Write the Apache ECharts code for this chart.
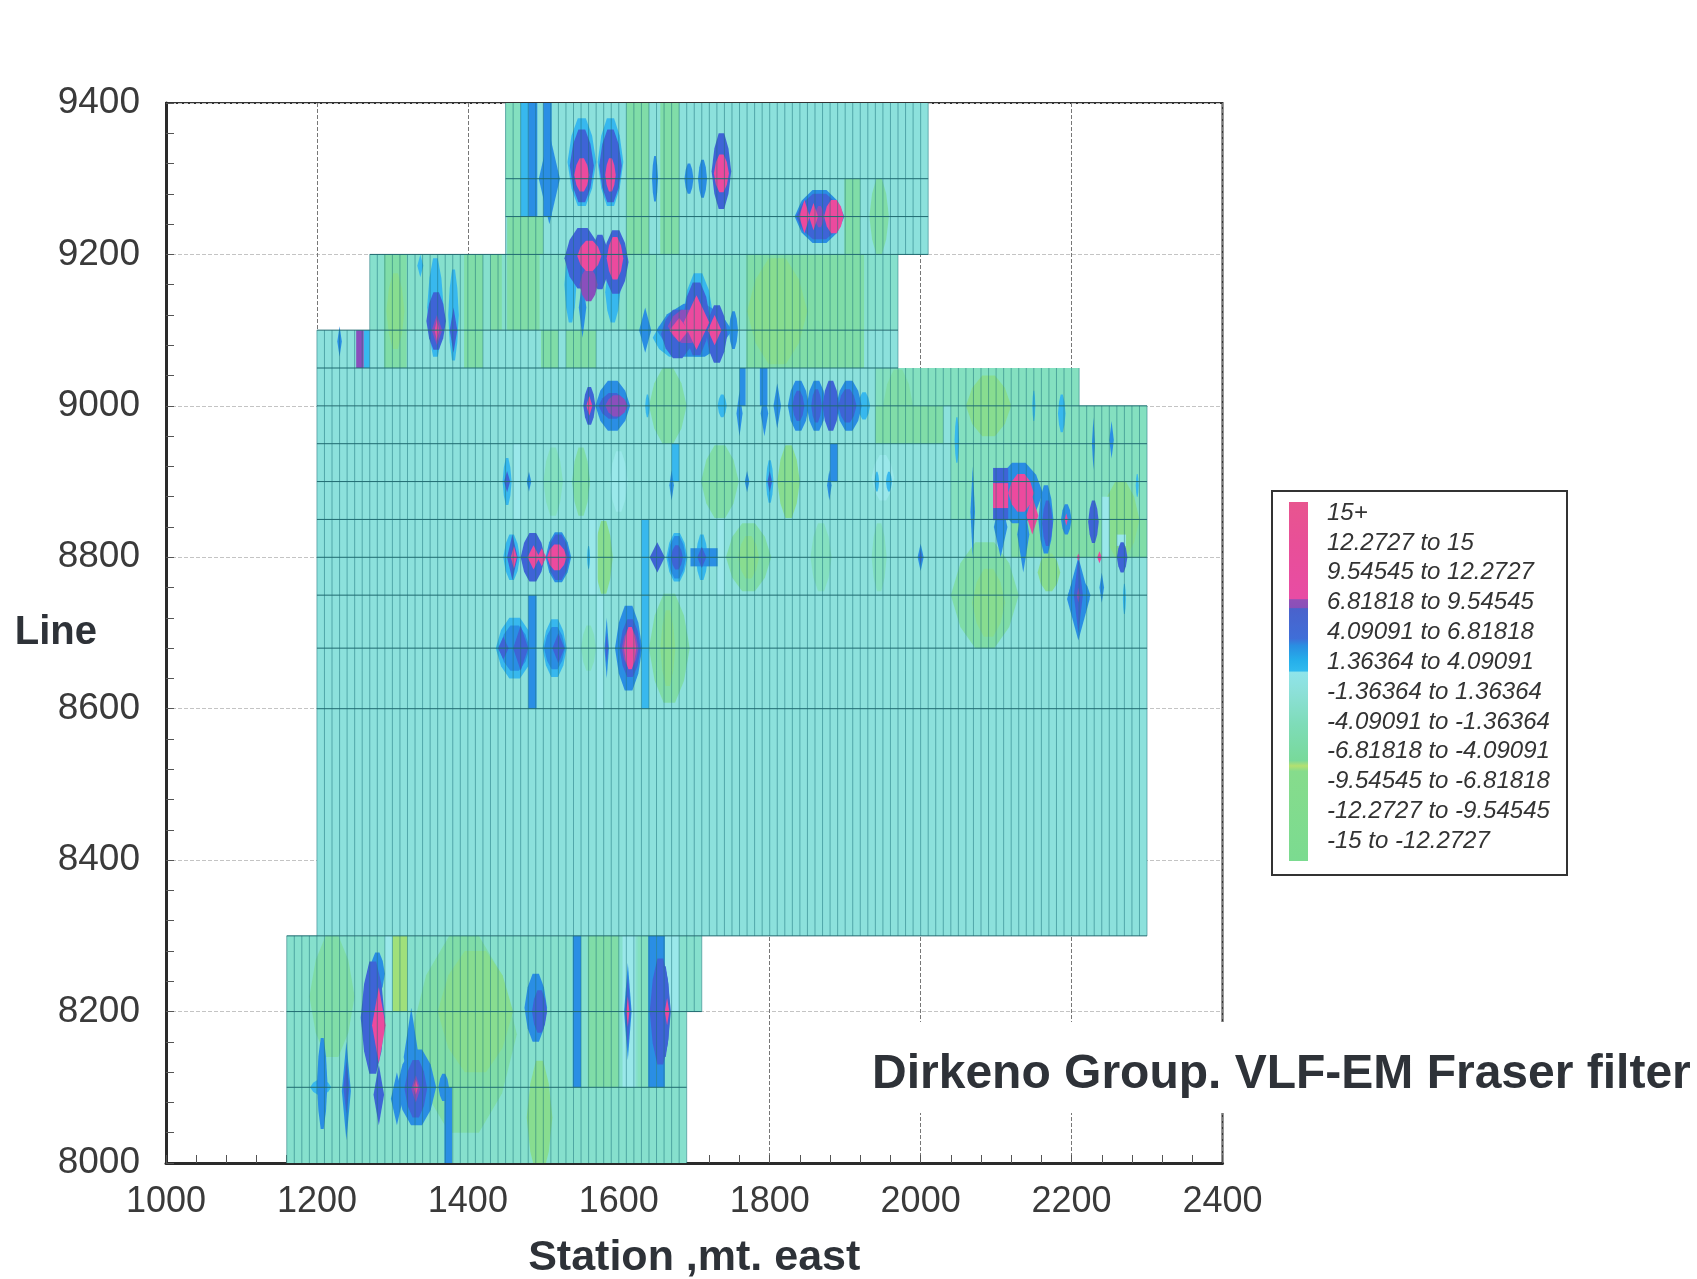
<!DOCTYPE html>
<html>
<head>
<meta charset="utf-8">
<style>html,body{margin:0;padding:0;background:#fff}#c{width:1697px;height:1279px}</style>
<script src="https://cdn.jsdelivr.net/npm/echarts@6/dist/echarts.min.js"></script>
</head>
<body>
<div id="c"></div>
<script>
// Surveyed blocks: [stationFrom, stationTo, lineFrom, lineTo, value]
const coverage = [
  [1450,2010,9200,9400,-0.8],[1270,1970,9100,9200,-1.2],[1200,1970,9050,9100,-1.0],
  [1200,2210,9000,9050,-0.8],[1200,2300,8300,9000,-0.4],[1160,1710,8200,8300,-1.4],[1160,1690,8000,8200,-1.4]
];
// Survey lines drawn across the blocks: [line, stationFrom, stationTo]
const surveyLines = [
  [9300,1450,2010],[9250,1450,2010],[9200,1270,2010],[9100,1200,1970],[9050,1200,1970],[9000,1200,2300],
  [8950,1200,2300],[8900,1200,2300],[8850,1200,2300],[8800,1200,2300],[8750,1200,2300],[8680,1200,2300],
  [8600,1200,2300],[8300,1160,2300],[8200,1160,1710],[8100,1160,1690]
];
// Straight-sided bands: [stationFrom, stationTo, lineFrom, lineTo, value]
const stripes = [
  [1450,1470,9250,9400,-3],[1610,1640,9200,9400,-4],[1655,1680,9200,9400,-4],[1899,1920,9200,9300,-4],[1452,1500,9200,9250,-4],
  [1470,1480,9250,9400,2],[1480,1492,9250,9400,4],[1500,1511,9250,9400,4],
  [1289,1319,9050,9200,-4],[1395,1420,9050,9200,-4],[1430,1445,9100,9200,-3.5],[1452,1495,9100,9200,-4],[1497,1520,9050,9100,-4],
  [1530,1570,9050,9100,-4],[1610,1650,9100,9200,-3],[1769,1925,9050,9200,-4],
  [1252,1262,9050,9100,8],[1262,1270,9050,9100,2],
  [1940,2210,9000,9050,-3],[1940,2030,8950,9000,-4],[2040,2300,8850,9000,-3],[2120,2300,8800,8850,-3.5],
  [1760,1768,9000,9050,4],[1787,1797,9000,9050,4],[1880,1890,8900,8950,4],
  [1460,1470,8850,8950,1],[1670,1680,8900,8950,2],[1560,1572,8750,8850,1],[1630,1640,8750,8850,2],[1730,1740,8750,8850,1],
  [1480,1491,8600,8750,4],[1571,1580,8600,8750,1],[1630,1640,8600,8750,2],[2240,2250,8800,8880,1],[2260,2272,8815,8830,1],
  [1290,1300,8200,8300,1],[1300,1320,8200,8300,-7],[1539,1550,8100,8300,4],[1559,1600,8100,8300,-4],[1625,1640,8100,8300,-3],
  [1639,1650,8100,8300,3],[1650,1661,8100,8300,4],[1661,1680,8200,8300,1],[1605,1622,8100,8300,1],[1369,1379,8000,8100,3],
  [1695,1731,8788,8812,4],[2096,2116,8849,8918,6],[2096,2116,8865,8898,10]
];
// Rounded lobes: [station, line, halfWidth, halfHeight, value]
const lobes = [
  // green lows
  [1304,9125,12,50,-6],[1810,9125,40,70,-5.5],[1945,9250,13,50,-4],[1665,9000,25,50,-4],[1970,9000,20,48,-4.5],[2090,9000,30,40,-5],
  [1513,8900,13,45,-3],[1550,8900,12,45,-4],[1734,8900,25,48,-4],[1825,8900,15,48,-5],[1580,8800,12,48,-5],[1772,8800,30,45,-4],
  [1772,8800,14,28,-6],[1868,8800,14,45,-3],[1945,8800,10,45,-3],[2085,8750,45,70,-4],[2090,8740,22,45,-5.5],[1560,8680,10,30,-3],
  [1667,8680,27,72,-4],[1665,8680,10,50,-6],[1220,8220,30,80,-4],[1395,8170,70,130,-4],[1410,8200,50,80,-5],[1495,8060,17,75,-5],
  [2170,8780,15,25,-5],[2265,8850,25,50,-5],
  // pale and blue highs, shoulders
  [1600,8900,12,40,1],[1950,8905,15,30,1],[1551,9322,19,58,2],[1589,9322,17,58,2],[1536,9160,8,50,2],[1592,9150,10,40,2],
  [1675,9090,30,25,2],[1705,9120,20,55,2],[1357,9130,11,65,2],[1381,9120,7,60,2],[1638,9000,3,15,2],[1737,9000,6,15,2],
  [1925,9000,8,18,2],[2187,8990,5,25,2],[2048,8955,3,30,2],[2150,9000,2,20,2],[2287,8895,2,15,2],[1452,8900,6,31,2],[1800,8900,5,28,2],
  [1942,8900,3,13,2],[1958,8900,4,13,2],[1560,8800,2,15,2],[1458,8800,11,30,2],[1677,8800,14,32,2],[1710,8800,8,30,2],
  [1462,8680,25,40,2],[1515,8680,16,38,2],[2270,8745,2,20,2],[1205,8100,14,10,2],[1280,8250,10,28,3],[1368,8100,7,18,3],[1207,8105,7,60,3],
  // bright-blue bodies
  [1648,9300,4,30,3],[1693,9300,6,20,3],[1711,9300,6,25,4],[1866,9250,33,35,4],
  [1700,9100,50,35,4],[1752,9100,6,25,4],[1592,9000,23,33,4],[1838,9000,14,33,4],[1862,9000,13,33,4],[1905,9000,17,33,4],
  [1520,8800,17,33,4],[1677,8800,12,28,4],[1462,8680,20,30,4],[1515,8680,14,28,4],[1613,8680,18,56,4],
  [2130,8885,32,40,4],[2166,8850,10,45,4],[2193,8850,7,20,4],[2210,8750,15,20,4],[1332,8100,26,50,4],[1490,8205,15,45,4],[1655,8200,14,70,5],
  // indigo cores
  [1551,9317,16,48,6],[1589,9317,15,48,6],[1736,9310,13,50,6],[1866,9250,31,30,6],[1552,9195,24,40,6],[1596,9190,17,42,6],[1575,9190,12,36,6],
  [1678,9095,22,32,6],[1703,9115,18,48,6],[1730,9095,14,38,6],[1358,9112,13,38,6],
  [1561,9000,8,25,6],[1592,9000,19,17,6],[1838,9000,8,20,6],[1862,9000,7,22,6],[1881,9000,11,33,6],[1903,9000,12,22,6],
  [1486,8800,16,32,6],[1520,8800,15,30,6],[1677,8800,8,16,6],[2168,8845,7,30,6],[2229,8847,7,28,6],[2267,8800,7,20,6],
  [1615,8680,14,38,6],[1274,8192,16,74,6],[1331,8098,15,38,6],[1495,8200,10,28,6],[1660,8200,8,60,6],
  // purple
  [1866,9250,6,14,8],[1560,9160,12,22,8],[1690,9105,25,22,8],[1597,9000,15,14,8],[1615,8680,11,25,8],
  // pink peak bodies
  [1551,9305,10,22,10],[1589,9305,7,22,10],[1736,9307,10,25,10],[1885,9250,13,22,10],[1561,9198,16,20,10],[1595,9195,11,28,10],
  [1518,8800,13,17,10],[1615,8680,8,28,10],[2133,8885,17,25,10]
];
// Sharp diamonds: [station, line, halfWidth, halfHeight, value]
const spikes = [
  [1508,9300,14,60,4],[1635,9100,8,30,4],[1230,9085,3,20,4],[1337,9185,4,15,2],[1552,9130,5,40,4],[1760,8990,4,30,4],[1793,8990,5,30,4],[1810,9000,5,30,4],
  [2229,8950,2,35,4],[2253,8955,3,25,4],[1670,8895,3,20,4],[1481,8900,3,13,4],[1770,8900,3,14,4],[1879,8895,3,20,4],[2069,8860,3,60,4],
  [2106,8840,9,40,4],[2136,8830,8,50,4],[2000,8800,4,18,4],[1584,8680,3,40,4],[2240,8760,3,20,4],[2209,8745,15,55,4],
  [1325,8140,10,65,4],[1306,8085,8,35,4],[1239,8095,6,65,4],[1282,8090,7,40,5],[1612,8200,5,64,4],[1447,8680,7,15,5],
  [1452,8900,4,14,5],[1800,8900,3,14,5],[1520,8680,8,20,5],[1359,9100,7,20,8],[1381,9100,5,30,6],[1459,8800,7,30,6],[1651,8800,10,20,6],
  [1710,8800,6,14,6],[2000,8800,2,10,6],[2209,8750,6,50,6],[1470,8680,10,30,6],[1584,8680,2,20,6],[1239,8100,4,35,6],[1612,8200,4,48,6],
  [2209,8750,2,10,8],[1331,8098,6,18,8],
  // pink peaks
  [1846,9250,7,22,10],[1858,9250,6,18,10],
  [1680,9100,13,16,10],[1703,9110,17,36,10],[1727,9100,9,20,10],[1359,9100,3,14,10],
  [1561,9000,4,13,10],[1461,8800,4,15,10],[1487,8800,8,16,10],[1498,8800,6,12,10],
  [2148,8855,8,25,10],[2193,8850,2,8,10],[2237,8800,3,8,10],[2209,8800,2,5,10],
  [1282,8182,9,50,10],[1331,8100,3,10,10],[1612,8200,2,20,10],[1664,8200,3,18,10]
];
const legendLabels = ['15+','12.2727 to 15','9.54545 to 12.2727','6.81818 to 9.54545','4.09091 to 6.81818','1.36364 to 4.09091',
  '-1.36364 to 1.36364','-4.09091 to -1.36364','-6.81818 to -4.09091','-9.54545 to -6.81818','-12.2727 to -9.54545','-15 to -12.2727'];
const legendStops = [[0,'#e8558f'],[0.12,'#e84f98'],[0.27,'#e84ca4'],[0.272,'#9050b8'],[0.295,'#8a4fb8'],[0.297,'#4a62cc'],[0.38,'#3f6ed8'],
  [0.40,'#2a8ee2'],[0.44,'#25aeea'],[0.47,'#30baee'],[0.475,'#8fe4ea'],[0.53,'#8ce0d8'],[0.62,'#7edcb8'],[0.72,'#78d99a'],[0.735,'#b4e070'],
  [0.75,'#86dc8c'],[1,'#7bdb90']];
const xTicks = {min:1000,max:2400,interval:200};
const yTicks = {min:8000,max:9400,interval:200};
const titleText = 'Dirkeno Group. VLF-EM Fraser filter';

function bandColor(v){
  if(v>=9) return '#ec4a9e';
  if(v>=7) return '#8a4fbc';
  if(v>=5) return '#3e64d6';
  if(v>=3) return '#2a8ee4';
  if(v>=1.5) return '#38b8ee';
  if(v>=0.5) return '#9ae8ea';
  if(v>=-1) return '#8ce1dc';
  if(v>=-2) return '#86e0cd';
  if(v>=-3.2) return '#84e0c0';
  if(v>=-4.5) return '#80dda8';
  if(v>=-6.5) return '#88dd90';
  return '#a0e07a';
}
function toBox(r){ return [(r[0]+r[1])/2,(r[2]+r[3])/2,(r[1]-r[0])/2,(r[3]-r[2])/2,r[4],2]; }
const anomalies = []
  .concat(stripes.map(toBox))
  .concat(lobes.map(l=>l.concat(1)))
  .concat(spikes.map(s=>s.concat(0)));
anomalies.forEach((a,i)=>a.push(i));
anomalies.sort((a,b)=>{
  const ra=a[4]<0?-a[4]:100+a[4], rb=b[4]<0?-b[4]:100+b[4];
  return ra-rb || a[6]-b[6];
});

function renderCoverage(p,api){
  const a=api.coord([api.value(0),api.value(3)]), b=api.coord([api.value(1),api.value(2)]);
  return {type:'rect',shape:{x:a[0],y:a[1],width:b[0]-a[0],height:b[1]-a[1]},style:{fill:bandColor(api.value(4))}};
}
function renderAnomaly(p,api){
  const x=api.value(0),y=api.value(1),rx=api.value(2),ry=api.value(3),shape=api.value(5);
  let pts;
  if(shape===2) pts=[[x-rx,y-ry],[x+rx,y-ry],[x+rx,y+ry],[x-rx,y+ry]];
  else if(shape===1) pts=[[x-rx,y],[x-rx*0.72,y+ry*0.6],[x-rx*0.28,y+ry],[x+rx*0.28,y+ry],[x+rx*0.72,y+ry*0.6],[x+rx,y],
                          [x+rx*0.72,y-ry*0.6],[x+rx*0.28,y-ry],[x-rx*0.28,y-ry],[x-rx*0.72,y-ry*0.6]];
  else pts=[[x-rx,y],[x,y+ry],[x+rx,y],[x,y-ry]];
  return {type:'polygon',shape:{points:pts.map(q=>api.coord(q))},style:{fill:bandColor(api.value(4))}};
}
function renderStations(p,api){
  const x0=api.value(0),x1=api.value(1),y0=api.value(2),y1=api.value(3),kids=[];
  for(let s=Math.ceil(x0/10)*10;s<=x1;s+=10){
    const a=api.coord([s,y1]),b=api.coord([s,y0]);
    kids.push({type:'line',shape:{x1:a[0],y1:a[1],x2:b[0],y2:b[1]},style:{stroke:'rgba(24,110,120,0.5)',lineWidth:1}});
  }
  return {type:'group',children:kids};
}
function renderSurveyLine(p,api){
  const a=api.coord([api.value(1),api.value(0)]),b=api.coord([api.value(2),api.value(0)]);
  return {type:'line',shape:{x1:a[0],y1:a[1],x2:b[0],y2:b[1]},style:{stroke:'#1f6a70',lineWidth:1}};
}

const boxL=1271,boxT=490,boxW=295,boxH=384,barX=1289,barT=502,barW=19,barH=359,rowStep=29.85,firstText=512;
const legendGraphics=[
  {type:'rect',left:boxL,top:boxT,shape:{width:boxW,height:boxH},style:{fill:'#fff',stroke:'#333',lineWidth:2},z:50},
  {type:'rect',left:barX,top:barT,shape:{width:barW,height:barH},
   style:{fill:new echarts.graphic.LinearGradient(0,0,0,1,legendStops.map(s=>({offset:s[0],color:s[1]})))},z:51}
].concat(legendLabels.map((t,i)=>({type:'text',left:1327,top:firstText+i*rowStep-11,z:52,
  style:{text:t,fill:'#333',font:'italic 24px "Liberation Sans", Arial, sans-serif'}})));

const fontName='"Liberation Sans", Arial, sans-serif';
function axis(t,name,gap,grid,labelSize,margin,nameSize,namePad){
  return {type:'value',min:t.min,max:t.max,interval:t.interval,name:name,nameLocation:'middle',nameGap:gap,nameRotate:0,nameMoveOverlap:false,
    nameTextStyle:{fontFamily:fontName,color:'#2e3238',fontSize:nameSize,fontWeight:'bold',padding:namePad},
    axisLabel:{margin:margin,showMinLabel:true,showMaxLabel:true,formatter:v=>String(v),fontFamily:fontName,color:'#3a3a3a',fontSize:labelSize},
    axisLine:{show:true,lineStyle:{color:'#2a2a2a',width:3}},
    axisTick:{show:true,inside:true,length:8,lineStyle:{color:'#555',width:1}},
    minorTick:{show:true,splitNumber:5,length:8,lineStyle:{color:'#555',width:1}},
    splitLine:{show:true,lineStyle:grid},minorSplitLine:{show:false}};
}
const chart=echarts.init(document.getElementById('c'),null,{renderer:'canvas'});
chart.setOption({
  animation:false,
  backgroundColor:'#fff',
  title:{text:titleText,left:858,top:1022,padding:[29,14,14,14],backgroundColor:'#fff',z:20,
    textStyle:{fontFamily:fontName,fontSize:48,fontWeight:'bold',color:'#2e3238'}},
  grid:{left:166,right:474.5,top:103,bottom:116,show:true,borderColor:'#333',borderWidth:2,backgroundColor:'#fff',containLabel:false,outerBoundsMode:'none'},
  xAxis:axis(xTicks,'Station ,mt. east',74,{color:'#777',width:1,type:'dashed'},36,21,43,0),
  yAxis:axis(yTicks,'Line',69,{color:'#c4c4c4',width:1,type:'dashed'},37,26,40,[11,0,0,0]),
  graphic:legendGraphics,
  series:[
    {type:'custom',name:'coverage',silent:true,clip:true,renderItem:renderCoverage,data:coverage,encode:{x:0,y:2},z:2},
    {type:'custom',name:'VLF-EM',silent:true,clip:true,renderItem:renderAnomaly,data:anomalies,encode:{x:0,y:1},z:3},
    {type:'custom',name:'stations',silent:true,clip:true,renderItem:renderStations,data:coverage,encode:{x:0,y:2},z:4},
    {type:'custom',name:'lines',silent:true,clip:true,renderItem:renderSurveyLine,data:surveyLines,encode:{x:1,y:0},z:5}
  ]
});
</script>
</body>
</html>
